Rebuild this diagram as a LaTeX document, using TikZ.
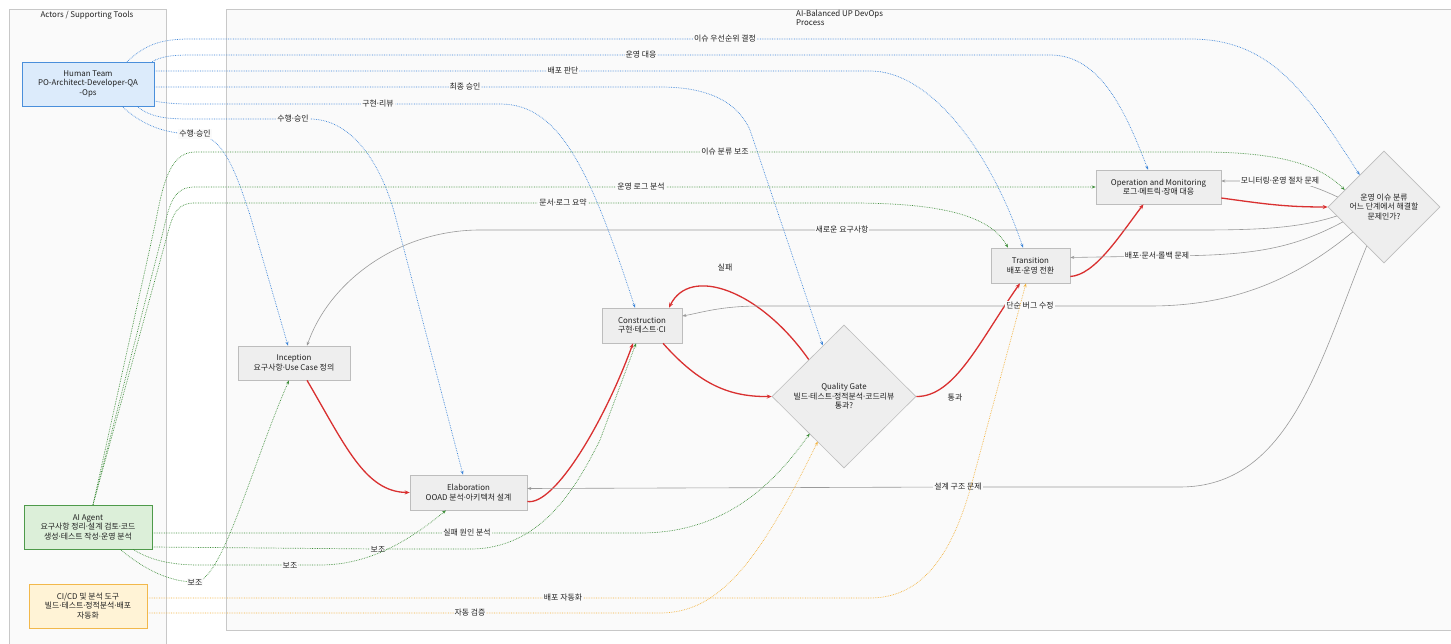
\documentclass[tikz,border=0pt]{standalone}
\usepackage{fontspec}
\setmainfont{Noto Sans CJK KR}
\newfontfamily\dotfont{Noto Sans}
\usetikzlibrary{shapes.geometric,arrows.meta,calc}
\definecolor{nodef}{HTML}{EEEEEE}
\definecolor{nodeb}{HTML}{BDBDBD}
\definecolor{humf}{HTML}{DCEBFB}
\definecolor{humb}{HTML}{4A8FDB}
\definecolor{aif}{HTML}{DCEFD9}
\definecolor{aib}{HTML}{4E9A4A}
\definecolor{cif}{HTML}{FFF3D6}
\definecolor{cib}{HTML}{F2B84B}
\definecolor{redc}{HTML}{D93030}
\definecolor{grayc}{HTML}{9A9A9A}
\definecolor{bluec}{HTML}{3D85D8}
\definecolor{greenc}{HTML}{3E8E3A}
\definecolor{orangec}{HTML}{F3B23C}
\definecolor{txt}{HTML}{222222}
\definecolor{bgc}{HTML}{FAFAFA}
\definecolor{clb}{HTML}{C8C8C8}
\catcode`·=\active
\def·{{\dotfont\char"00B7}}
\begin{document}
\begin{tikzpicture}[x=1pt,y=-1pt,
  every node/.style={text=txt, font=\fontsize{7.9}{9.5}\selectfont},
  cluster/.style={draw=clb, fill=bgc, line width=0.8pt},
  proc/.style={draw=nodeb, fill=nodef, line width=0.6pt, align=center, inner sep=2pt},
  dec/.style={diamond, draw=nodeb, fill=nodef, line width=0.6pt, align=center, inner sep=0pt, aspect=1},
  lbl/.style={fill=bgc, inner sep=1pt},
  mainedge/.style={draw=redc, line width=1.3pt, -{Stealth[length=5pt,width=4pt]}},
  fbedge/.style={draw=grayc, line width=0.6pt, -{Stealth[length=4pt,width=3pt]}},
  humedge/.style={draw=bluec, line width=0.7pt, densely dotted, -{Stealth[length=4pt,width=3pt]}},
  agtedge/.style={draw=greenc, line width=0.7pt, densely dotted, -{Stealth[length=4pt,width=3pt]}},
  tooledge/.style={draw=orangec, line width=0.7pt, densely dotted, -{Stealth[length=4pt,width=3pt]}}
]
\useasboundingbox (0,0) rectangle (1451,644);
\fill[white] (0,0) rectangle (1451,644);
\draw[cluster] (9,9) rectangle (166,660);
\draw[cluster] (226,9) rectangle (1470,630);
\node (tAct) at (87,15) {Actors / Supporting Tools};
\node[anchor=north west, align=left, inner sep=0pt] (tProc) at (796,10) {AI-Balanced UP DevOps\\Process};

% actors
\node[proc, draw=humb, fill=humf, minimum width=132pt, minimum height=44pt] (nHum) at (88,84) {Human Team\\PO-Architect-Developer-QA\\-Ops};
\node[proc, draw=aib, fill=aif, minimum width=128pt, minimum height=44pt] (nAI) at (88,527) {AI Agent\\요구사항 정리·설계 검토·코드\\생성·테스트 작성·운영 분석};
\node[proc, draw=cib, fill=cif, minimum width=118pt, minimum height=44pt] (nCI) at (88,606) {CI/CD 및 분석 도구\\빌드·테스트·정적분석·배포\\자동화};

% process
\node[proc, minimum width=112pt, minimum height=34pt] (inc) at (294,363) {Inception\\요구사항·Use Case 정의};
\node[proc, minimum width=117pt, minimum height=35pt] (ela) at (468.5,492.5) {Elaboration\\OOAD 분석·아키텍처 설계};
\node[proc, minimum width=80pt, minimum height=35pt] (con) at (642,325.5) {Construction\\구현·테스트·CI};
\node[dec, minimum width=144pt, minimum height=143pt] (qg) at (844,396.5) {Quality Gate\\빌드·테스트·정적분석·코드리뷰\\통과?};
\node[proc, minimum width=79pt, minimum height=35pt] (tra) at (1030.5,265.5) {Transition\\배포·운영 전환};
\node[proc, minimum width=125pt, minimum height=34pt] (ope) at (1158.5,187) {Operation and Monitoring\\로그·메트릭·장애 대응};
\node[dec, minimum width=112pt, minimum height=112pt] (iss) at (1384,207) {운영 이슈 분류\\어느 단계에서 해결할\\문제인가?};

% main flow
\draw[mainedge] ($(inc.south)+(13,0)$) .. controls (345,445) and (365,492) .. (ela.west);
\draw[mainedge] ($(ela.east)+(0,9)$) .. controls (555,506) and (605,420) .. ($(con.south)+(-9,0)$);
\draw[mainedge] ($(con.south)+(21,0)$) .. controls (700,385) and (730,397) .. (qg.west);
\draw[mainedge] ($(qg.west)+(37,-37)$) .. controls (760,290) and (690,265) .. ($(con.north)+(27,0)$);
\node (lFail) at (725,268) {실패};
\draw[mainedge] (qg.east) .. controls (955,397) and (980,340) .. ($(tra.south)+(-10.5,0)$);
\node (lPass) at (955,398) {통과};
\draw[mainedge] ($(tra.east)+(0,11)$) .. controls (1095,275) and (1120,235) .. ($(ope.south)+(-15,0)$);
\draw[mainedge] ($(ope.east)+(0,11)$) .. controls (1265,204) and (1285,207) .. (iss.west);

% feedback from issue classification
\draw[fbedge] ($(iss.west)+(10,-10)$) .. controls (1310,184) and (1295,181) .. (1280,181) node[lbl] (lMon) {모니터링·운영 절차 문제} -- ($(ope.east)+(0,-6)$);
\draw[fbedge] ($(iss.west)+(15,15)$) .. controls (1290,250) and (1250,256) .. (1157,256) node[lbl] (lDep) {배포·문서·롤백 문제} -- ($(tra.east)+(0,-8)$);
\draw[fbedge] ($(iss.west)+(9,9)$) .. controls (1300,228) and (1260,230) .. (1200,230) -- (842,230) node[lbl] (lNew) {새로운 요구사항} -- (480,230) .. controls (400,230) and (330,280) .. ($(inc.north)+(13,0)$);
\draw[fbedge] ($(iss.west)+(25,25)$) .. controls (1300,275) and (1240,306) .. (1150,306) -- (1030,306) node[lbl] (lBug) {단순 버그 수정} -- (760,306) .. controls (720,306) and (700,313) .. ($(con.east)+(0,-9.5)$);
\draw[fbedge] ($(iss.west)+(39,39)$) .. controls (1320,360) and (1290,487) .. (1180,487) -- (958,487) node[lbl] (lDes) {설계 구조 문제} -- ($(ela.east)+(0,-4)$);

% human team
\draw[humedge] ($(nHum.north)+(39,0)$) .. controls (145,45) and (160,39) .. (190,39) -- (725,39) node[lbl] (lPri) {이슈 우선순위 결정} -- (1190,39) .. controls (1270,39) and (1305,90) .. ($(iss.west)+(32,-32)$);
\draw[humedge] ($(nHum.north east)+(-2,0)$) .. controls (160,57) and (170,55) .. (190,55) -- (641,55) node[lbl] (lOps) {운영 대응} -- (1050,55) .. controls (1100,55) and (1125,110) .. ($(ope.north)+(-10.5,0)$);
\draw[humedge] ($(nHum.east)+(0,-13)$) -- (563,71) node[lbl] (lDec) {배포 판단} -- (870,71) .. controls (930,71) and (990,150) .. ($(tra.north)+(-7.5,0)$);
\draw[humedge] ($(nHum.east)+(0,3)$) -- (465,87) node[lbl] (lFin) {최종 승인} -- (660,87) .. controls (710,87) and (738,103) .. (750,130) -- ($(qg.west)+(51,-51)$);
\draw[humedge] ($(nHum.east)+(0,17)$) .. controls (165,103) and (175,104) .. (190,104) -- (378,104) node[lbl] (lRev) {구현·리뷰} -- (500,104) .. controls (560,104) and (590,170) .. ($(con.north)+(-7,0)$);
\draw[humedge] ($(nHum.south)+(49,0)$) .. controls (150,117) and (165,119) .. (190,119) -- (293,119) node[lbl] (lApp1) {수행·승인} -- (310,119) .. controls (350,119) and (380,160) .. (395,215) -- ($(ela.north)+(-5.5,0)$);
\draw[humedge] ($(nHum.south)+(34,0)$) .. controls (145,128) and (170,134) .. (195,134) node[lbl] (lApp2) {수행·승인} .. controls (225,134) and (238,180) .. (250,215) -- ($(inc.north)+(-6,0)$);

% AI agent
\draw[agtedge] ($(nAI.north)+(5,0)$) -- (155,225) .. controls (162,190) and (168,152) .. (195,152) -- (725,152) node[lbl] (lCls) {이슈 분류 보조} -- (1200,152) .. controls (1280,152) and (1320,165) .. ($(iss.west)+(17,-17)$);
\draw[agtedge] ($(nAI.north)+(5,0)$) -- (163,232) .. controls (170,200) and (175,187) .. (195,187) -- (641,187) node[lbl] (lLog) {운영 로그 분석} -- (ope.west);
\draw[agtedge] ($(nAI.north)+(5,0)$) -- (167,236) .. controls (173,212) and (178,203) .. (195,203) -- (563,203) node[lbl] (lSum) {문서·로그 요약} -- (850,203) .. controls (940,203) and (990,215) .. ($(tra.north)+(-22.5,0)$);
\draw[agtedge] ($(nAI.east)+(0,20)$) -- (378,549) node[lbl] (lSup1) {보조} -- (470,549) .. controls (540,549) and (575,490) .. (600,440) -- ($(con.south)+(-6,0)$);
\draw[agtedge] ($(nAI.east)+(0,6)$) -- (467,533) node[lbl] (lCause) {실패 원인 분석} -- (640,533) .. controls (720,533) and (770,490) .. ($(qg.west)+(38,37)$);
\draw[agtedge] ($(nAI.south)+(45,0)$) .. controls (150,560) and (170,565) .. (200,565) -- (290,565) node[lbl] (lSup2) {보조} -- (320,565) .. controls (370,565) and (410,540) .. ($(ela.south)+(-22.5,0)$);
\draw[agtedge] ($(nAI.south)+(32,0)$) .. controls (145,570) and (170,582) .. (195,582) node[lbl] (lSup3) {보조} .. controls (222,582) and (250,470) .. ($(inc.south)+(-5,0)$);

% CI/CD tools
\draw[tooledge] ($(nCI.east)+(0,-8)$) -- (563,598) node[lbl] (lAuto) {배포 자동화} -- (870,598) .. controls (930,598) and (955,540) .. (970,490) -- ($(tra.south)+(-4.5,0)$);
\draw[tooledge] ($(nCI.east)+(0,7)$) -- (470,613) node[lbl] (lVer) {자동 검증} -- (660,613) .. controls (720,613) and (760,560) .. ($(qg.west)+(46,45)$);
\end{tikzpicture}
\end{document}
